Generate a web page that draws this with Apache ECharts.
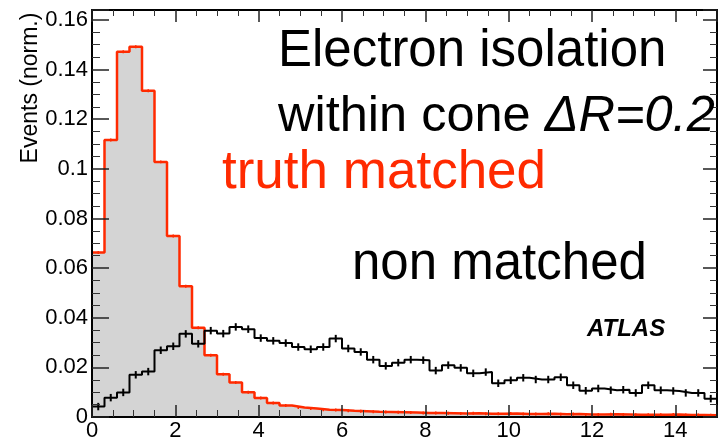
<!DOCTYPE html>
<html><head><meta charset="utf-8">
<script src="https://cdn.jsdelivr.net/npm/echarts@6/dist/echarts.min.js"></script>
<style>html,body{margin:0;padding:0;background:#fff}#c{width:720px;height:443px}</style>
</head><body><div id="c"></div>
<script>
// ---- data ----
const binWidth = 0.3;
const truthMatched = [0.0663, 0.1116, 0.1472, 0.1492, 0.1315, 0.1028, 0.0729, 0.0527, 0.0360, 0.0249,
  0.0172, 0.0139, 0.0100, 0.0077, 0.0056, 0.0046, 0.0038, 0.0034, 0.0029, 0.0028,
  0.0025, 0.0023, 0.0021, 0.0020, 0.0019, 0.0018, 0.0016, 0.0016, 0.0015, 0.0014,
  0.0015, 0.0013, 0.0013, 0.0014, 0.0012, 0.0012, 0.0013, 0.0011, 0.0012, 0.0010,
  0.0010, 0.0011, 0.0010, 0.0009, 0.0009, 0.0009, 0.0010, 0.0008, 0.0008, 0.0007];
const nonMatched = [0.0042, 0.0078, 0.0099, 0.0170, 0.0183, 0.0269, 0.0285, 0.0335, 0.0295, 0.0348,
  0.0336, 0.0363, 0.0354, 0.0318, 0.0307, 0.0298, 0.0282, 0.0273, 0.0282, 0.0316,
  0.0276, 0.0262, 0.0231, 0.0206, 0.0219, 0.0231, 0.0229, 0.0187, 0.0209, 0.0198,
  0.0176, 0.0181, 0.0136, 0.0148, 0.0158, 0.0151, 0.0151, 0.0160, 0.0128, 0.0106,
  0.0115, 0.0108, 0.0110, 0.0097, 0.0128, 0.0108, 0.0105, 0.0097, 0.0097, 0.0074];
const truthErr = 0.0006;
const nonErr = 0.0015;
const xTickLabels = ['0', '2', '4', '6', '8', '10', '12', '14'];
const yTickLabels = ['0', '0.02', '0.04', '0.06', '0.08', '0.1', '0.12', '0.14', '0.16'];

const RED = '#ff2a00';
const FONT = '"Liberation Sans", Arial, Helvetica, sans-serif';

function stepData(vals) {
  const d = vals.map((v, i) => [+(i * binWidth).toFixed(4), v]);
  d.push([+(vals.length * binWidth).toFixed(4), vals[vals.length - 1]]);
  return d;
}
function centerData(vals) {
  return vals.map((v, i) => [+((i + 0.5) * binWidth).toFixed(4), v]);
}
function errSeries(vals, e, color, w) {
  return {
    type: 'custom', xAxisIndex: 0, yAxisIndex: 0, z: 4,
    data: centerData(vals), encode: {x: 0, y: 1},
    renderItem: function (params, api) {
      const x = api.value(0), y = api.value(1);
      const p1 = api.coord([x, y - e]), p2 = api.coord([x, y + e]);
      return {type: 'line', shape: {x1: p1[0], y1: p1[1], x2: p2[0], y2: p2[1]},
        style: {stroke: color, lineWidth: w}};
    }
  };
}
function labelFmt(labels, step) {
  return function (v) {
    const k = v / step;
    if (Math.abs(k - Math.round(k)) < 1e-6 && labels[Math.round(k)] !== undefined) return labels[Math.round(k)];
    return '';
  };
}

const axisCommon = {
  type: 'value', splitLine: {show: false}, z: 10,
  axisLine: {show: true, onZero: false, lineStyle: {color: '#000', width: 2}}
};

const chart = echarts.init(document.getElementById('c'), null, {renderer: 'canvas'});
chart.setOption({
  animation: false,
  backgroundColor: '#fff',
  grid: {left: 92, top: 10, right: 1, bottom: 26, containLabel: false},
  xAxis: [
    Object.assign({}, axisCommon, {
      position: 'bottom', min: 0, max: 15, interval: 2,
      axisTick: {inside: true, length: 12, lineStyle: {color: '#222', width: 1.5}},
      minorTick: {show: true, splitNumber: 4, length: 7, lineStyle: {color: '#333', width: 1}},
      axisLabel: {show: true, margin: 3, color: '#000', fontSize: 22, fontFamily: FONT,
        formatter: labelFmt(xTickLabels, 2)}
    }),
    Object.assign({}, axisCommon, {
      position: 'top', min: 0, max: 15, interval: 2,
      axisTick: {inside: true, length: 12, lineStyle: {color: '#222', width: 1.5}},
      minorTick: {show: true, splitNumber: 4, length: 6, lineStyle: {color: '#333', width: 1}},
      axisLabel: {show: false}
    })
  ],
  yAxis: [
    Object.assign({}, axisCommon, {
      position: 'left', min: 0, max: 0.164, interval: 0.02,
      axisTick: {inside: true, length: 17, lineStyle: {color: '#222', width: 1.5}},
      minorTick: {show: true, splitNumber: 4, length: 8, lineStyle: {color: '#333', width: 1}},
      axisLabel: {show: true, margin: 4, color: '#000', fontSize: 22, fontFamily: FONT,
        formatter: labelFmt(yTickLabels, 0.02)}
    }),
    Object.assign({}, axisCommon, {
      position: 'right', min: 0, max: 0.164, interval: 0.02,
      axisTick: {inside: true, length: 14, lineStyle: {color: '#222', width: 1.5}},
      minorTick: {show: true, splitNumber: 4, length: 7, lineStyle: {color: '#333', width: 1}},
      axisLabel: {show: false}
    })
  ],
  series: [
    {
      name: 'truth matched', type: 'line', step: 'end', xAxisIndex: 0, yAxisIndex: 0, z: 2,
      data: stepData(truthMatched), showSymbol: false, symbol: 'none',
      lineStyle: {color: RED, width: 2.5},
      areaStyle: {color: '#d4d4d4', opacity: 1}
    },
    errSeries(truthMatched, truthErr, RED, 1.5),
    {
      name: 'non matched', type: 'line', step: 'end', xAxisIndex: 0, yAxisIndex: 0, z: 3,
      data: stepData(nonMatched), showSymbol: false, symbol: 'none',
      lineStyle: {color: '#000', width: 2}
    },
    errSeries(nonMatched, nonErr, '#000', 2)
  ],
  graphic: [
    {type: 'text', x: 31, y: 88, rotation: Math.PI / 2, z: 20,
      style: {text: 'Events (norm.)', fill: '#000', font: '23px ' + FONT, align: 'center', verticalAlign: 'middle'}},
    {type: 'text', x: 278, y: 52, z: 20,
      style: {text: 'Electron isolation', fill: '#000', font: '51px ' + FONT, verticalAlign: 'middle'}},
    {type: 'text', x: 278, y: 117, z: 20,
      style: {text: '{a|within cone }{b|ΔR=0.2}', fill: '#000', font: '50.5px ' + FONT, verticalAlign: 'middle',
        rich: {a: {fontSize: 50.5, fontFamily: FONT, fill: '#000'},
               b: {fontSize: 50.5, fontFamily: FONT, fontStyle: 'italic', fill: '#000'}}}},
    {type: 'text', x: 222, y: 173, z: 20,
      style: {text: 'truth matched', fill: RED, font: '53px ' + FONT, verticalAlign: 'middle'}},
    {type: 'text', x: 352, y: 265, z: 20,
      style: {text: 'non matched', fill: '#000', font: '51px ' + FONT, verticalAlign: 'middle'}},
    {type: 'text', x: 587, y: 329, z: 20,
      style: {text: 'ATLAS', fill: '#000', font: 'italic bold 24px ' + FONT, verticalAlign: 'middle'}}
  ]
});
</script>
</body></html>
